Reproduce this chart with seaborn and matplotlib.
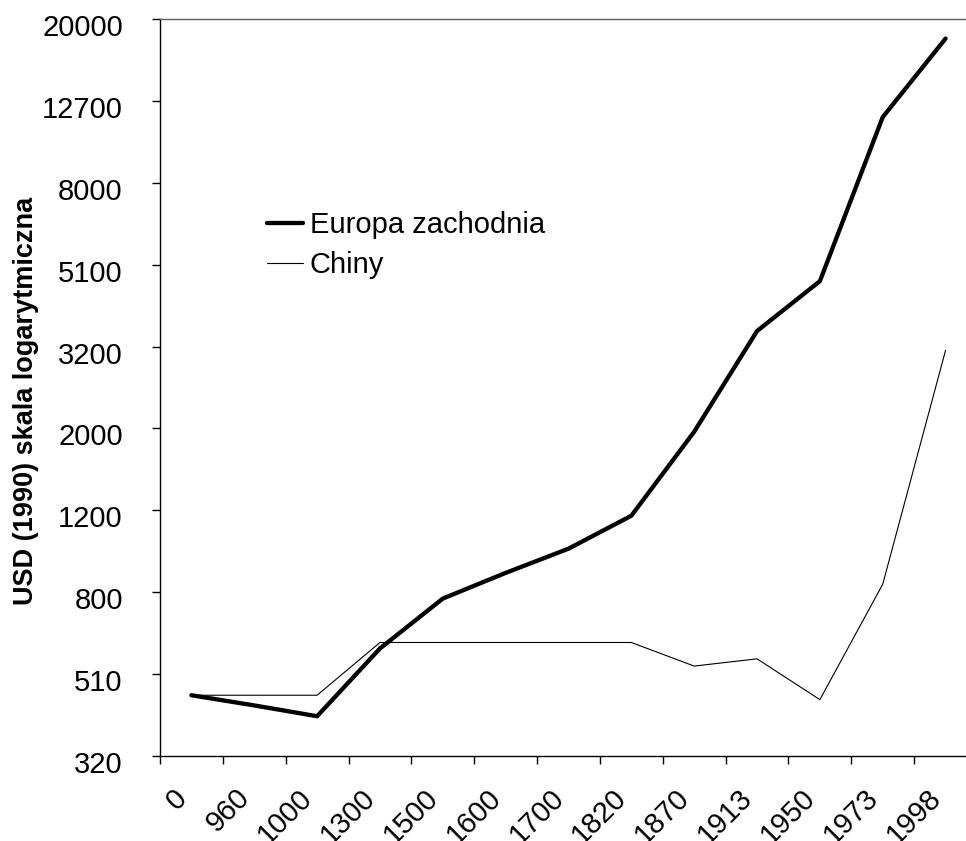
import numpy as np
import pandas as pd
import matplotlib
matplotlib.use("Agg")
import matplotlib.pyplot as plt
import matplotlib.transforms as mtransforms
from matplotlib.ticker import NullLocator, FixedLocator
import seaborn as sns

# GDP per capita, USD (1990), by year
years = ["0", "960", "1000", "1300", "1500", "1600", "1700",
         "1820", "1870", "1913", "1950", "1973", "1998"]
europe = [450, 425, 400, 585, 774, 894, 1024, 1232, 1974, 3473, 4594, 11534, 17921]
china = [450, 450, 450, 605, 605, 605, 605, 605, 530, 552, 439, 839, 3117]

europe_label = "Europa zachodnia"
china_label = "Chiny"
y_label = "USD (1990) skala logarytmiczna"
y_tick_labels = ["320", "510", "800", "1200", "2000", "3200",
                 "5100", "8000", "12700", "20000"]
y_min, y_max = 320, 20000

df = pd.DataFrame({"rok": years, "europa": europe, "chiny": china})

sns.set_theme(style="white")
plt.rcParams["font.family"] = ["Liberation Sans", "DejaVu Sans"]
plt.rcParams["text.color"] = "black"
plt.rcParams["axes.labelcolor"] = "black"
plt.rcParams["xtick.color"] = "black"
plt.rcParams["ytick.color"] = "black"

W, H = 966, 841
fig = plt.figure(figsize=(W / 100, H / 100), dpi=100)
left, right, top, bottom = 160, 977, 19, 756
ax = fig.add_axes([left / W, 1 - bottom / H, (right - left) / W, (bottom - top) / H])

sns.lineplot(data=df, x="rok", y="europa", ax=ax, color="black",
             linewidth=3.1, label=europe_label, sort=False)
sns.lineplot(data=df, x="rok", y="chiny", ax=ax, color="black",
             linewidth=0.8, label=china_label, sort=False)

ax.set_yscale("log")
ax.set_ylim(y_min, y_max)
ax.set_xlim(-0.5, len(years) - 0.5)

# evenly spaced log ticks between the axis limits
n = len(y_tick_labels) - 1
y_ticks = [y_min * (y_max / y_min) ** (k / n) for k in range(n + 1)]
ax.yaxis.set_major_locator(FixedLocator(y_ticks))
ax.yaxis.set_minor_locator(NullLocator())
ax.set_yticklabels(y_tick_labels)

# category labels at centres, tick marks at category boundaries
ax.set_xticks(range(len(years)))
ax.set_xticklabels(years)
ax.set_xticks(np.arange(-0.5, len(years)), minor=True)

ax.tick_params(axis="x", which="major", length=0, pad=27, labelsize=21)
ax.tick_params(axis="x", which="minor", length=5.8, width=1, color="black",
               direction="out", bottom=True)
ax.tick_params(axis="y", which="major", length=5.8, width=1, color="black",
               direction="out", left=True, pad=21, labelsize=21)

shift_left = mtransforms.ScaledTranslation(-9 / 100, 0, fig.dpi_scale_trans)
for lab in ax.get_xticklabels():
    lab.set_rotation(45)
    lab.set_ha("right")
    lab.set_va("center")
    lab.set_rotation_mode("anchor")
    lab.set_transform(lab.get_transform() + shift_left)

shift_down = mtransforms.ScaledTranslation(0, -6 / 100, fig.dpi_scale_trans)
for lab in ax.get_yticklabels():
    lab.set_transform(lab.get_transform() + shift_down)

ax.set_xlabel("")
ax.set_ylabel(y_label, fontsize=19.5, fontweight="bold")
ax.yaxis.set_label_coords(39 / W, 1 - 401 / H, transform=fig.transFigure)

for side in ["left", "bottom"]:
    ax.spines[side].set_color("black")
    ax.spines[side].set_linewidth(1)
ax.spines["top"].set_color("#606060")
ax.spines["top"].set_linewidth(1)
ax.spines["right"].set_visible(False)

ax.legend(loc="upper left", bbox_to_anchor=(267 / W, 1 - 211 / H),
          bbox_transform=fig.transFigure, frameon=False, fontsize=21,
          handlelength=1.25, handletextpad=0.22, labelspacing=0.42,
          borderpad=0, borderaxespad=0)

ax.grid(False)
fig.savefig("out.png", dpi=100)
